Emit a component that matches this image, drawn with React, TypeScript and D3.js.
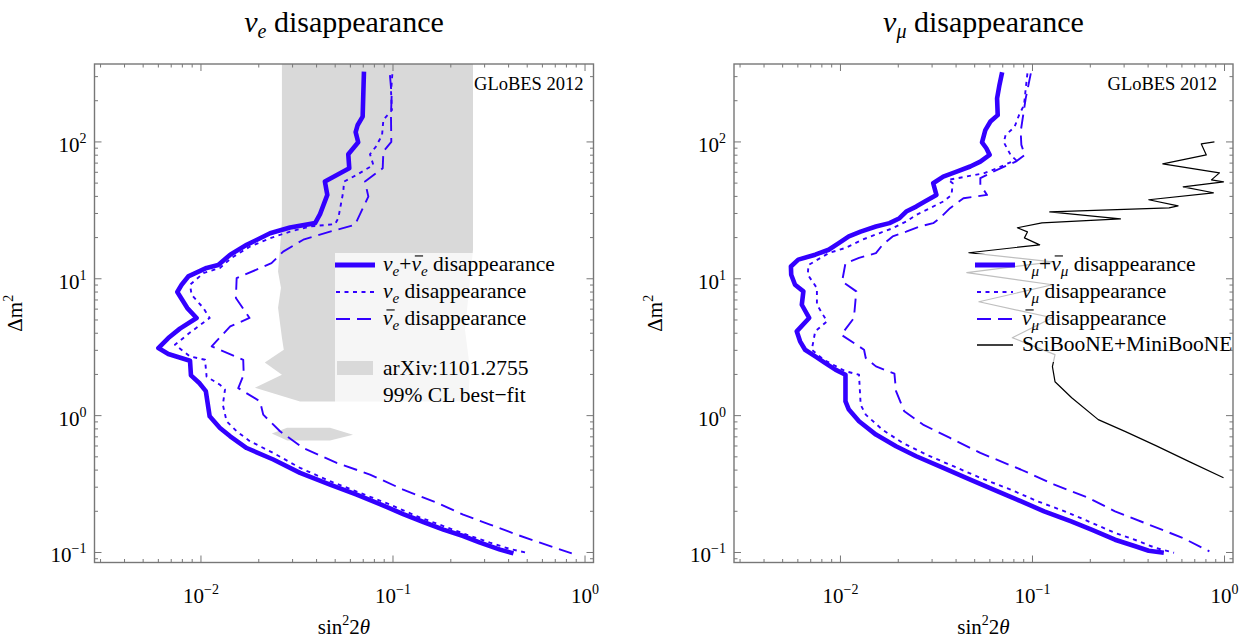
import React from 'react';
import * as d3 from 'd3';

type P = [number, number];

const W = 1245;
const H = 640;

// ---------- axis data ----------
const xDomain: [number, number] = [0.00279, 1.107];
const yDomain: [number, number] = [0.0845, 371];
const xTicks = [0.01, 0.1, 1];
const xTickExp = ['\u22122', '\u22121', '0'];
const yTicks = [0.1, 1, 10, 100];
const yTickExp = ['\u22121', '0', '1', '2'];

// ---------- left panel: nu_e disappearance ----------
const leftCombined: P[] = [
  [0.0706, 326], [0.0695, 153], [0.0655, 133], [0.0639, 118], [0.0659, 99.4], [0.0585, 81.3],
  [0.0592, 64.2], [0.0442, 51.3], [0.0455, 41.0], [0.0417, 29.7], [0.0393, 25.5], [0.0291, 23.7],
  [0.0229, 21.5], [0.0173, 17.7], [0.0142, 15.0], [0.0123, 12.6], [0.0107, 12.0], [0.00859, 10.4],
  [0.00793, 9.04], [0.00753, 8.0], [0.00849, 6.11], [0.00949, 5.17], [0.00777, 4.32], [0.00676, 3.69],
  [0.0060, 3.12], [0.00676, 2.82], [0.00877, 2.52], [0.00887, 1.97], [0.0098, 1.73], [0.0106, 1.51],
  [0.0111, 0.989], [0.01256, 0.813], [0.0142, 0.706], [0.0173, 0.58], [0.0238, 0.478], [0.0328, 0.382],
  [0.047, 0.313], [0.0647, 0.265], [0.0855, 0.226], [0.113, 0.191], [0.144, 0.167], [0.183, 0.147],
  [0.232, 0.132], [0.284, 0.118], [0.361, 0.105], [0.424, 0.0985],
];
const leftNu: P[] = [
  [0.0992, 312], [0.0977, 233], [0.0987, 171], [0.0891, 145], [0.0877, 112], [0.0815, 92.5],
  [0.0759, 81.3], [0.079, 67.9], [0.0647, 57.4], [0.0556, 51.3], [0.0551, 43.4], [0.0519, 27.7],
  [0.0499, 25.1], [0.037, 24.1], [0.0291, 22.1], [0.0229, 19.8], [0.018, 17.2], [0.0144, 14.2],
  [0.01256, 12.0], [0.0103, 11.0], [0.00877, 9.04], [0.00894, 7.64], [0.0103, 6.11], [0.0111, 5.17],
  [0.00894, 4.13], [0.00732, 3.3], [0.00877, 2.71], [0.0105, 2.56], [0.0107, 1.93], [0.01256, 1.68],
  [0.01334, 1.55], [0.013, 1.2], [0.0136, 0.91], [0.01534, 0.769], [0.018, 0.65], [0.0238, 0.534],
  [0.0328, 0.415], [0.047, 0.332], [0.0673, 0.273], [0.0964, 0.224], [0.133, 0.184], [0.183, 0.156],
  [0.242, 0.135], [0.32, 0.118], [0.407, 0.106], [0.497, 0.0995],
];
const leftNubar: P[] = [
  [0.0964, 308], [0.0984, 220], [0.0976, 157], [0.098, 100], [0.0891, 85.0], [0.0884, 64.2],
  [0.0715, 51.3], [0.0744, 39.9], [0.0634, 24.8], [0.047, 22.1], [0.0341, 19.3], [0.0268, 15.8],
  [0.0233, 13.0], [0.01534, 10.1], [0.0152, 7.23], [0.0165, 6.11], [0.0179, 5.17], [0.0142, 4.49],
  [0.01137, 3.21], [0.0166, 2.56], [0.0167, 1.99], [0.01564, 1.59], [0.0203, 1.27], [0.0211, 1.017],
  [0.0258, 0.769], [0.0341, 0.58], [0.0509, 0.452], [0.0759, 0.371], [0.113, 0.288], [0.169, 0.231],
  [0.232, 0.189], [0.32, 0.16], [0.441, 0.135], [0.583, 0.118], [0.853, 0.0985],
];
// arXiv:1101.2755 99% CL best-fit region
const bestFitMain: P[] = [
  [0.0264, 500], [0.261, 500], [0.261, 16.3], [0.249, 8.32], [0.237, 4.25], [0.252, 2.17],
  [0.246, 1.27], [0.0328, 1.27], [0.0191, 1.6], [0.0264, 1.99], [0.0215, 2.44], [0.027, 3.03],
  [0.0264, 3.71], [0.0252, 6.14], [0.0261, 8.59], [0.0252, 11.3], [0.0258, 16.8], [0.0264, 26.1],
];
const bestFitIsland: P[] = [
  [0.0234, 0.74], [0.0281, 0.817], [0.047, 0.817], [0.0619, 0.726], [0.047, 0.658], [0.0281, 0.658],
];

// ---------- right panel: nu_mu disappearance ----------
const rightCombined: P[] = [
  [0.0695, 323], [0.0673, 261], [0.0654, 208], [0.0659, 157], [0.0604, 141], [0.0568, 122],
  [0.0546, 99.4], [0.0575, 89.9], [0.0598, 80.4], [0.0535, 71.8], [0.0474, 66.1], [0.0403, 60.7],
  [0.0343, 55.8], [0.0304, 49.9], [0.0316, 41.0], [0.0275, 36.7], [0.0248, 33.7], [0.022, 31.0],
  [0.0203, 27.7], [0.018, 25.5], [0.0153, 24.1], [0.01274, 22.1], [0.01106, 20.4], [0.0098, 18.2],
  [0.00868, 16.3], [0.00739, 15.0], [0.00603, 13.8], [0.00552, 12.3], [0.00554, 10.7], [0.0058, 9.04],
  [0.00641, 8.09], [0.00629, 6.46], [0.00687, 5.17], [0.00592, 4.13], [0.00616, 3.49], [0.00654, 3.03],
  [0.00739, 2.71], [0.00834, 2.42], [0.00941, 2.17], [0.01062, 1.99], [0.01062, 1.27], [0.01106, 1.107],
  [0.01249, 0.91], [0.0153, 0.727], [0.01947, 0.597], [0.0248, 0.505], [0.0343, 0.415], [0.0474, 0.341],
  [0.0654, 0.281], [0.0868, 0.237], [0.115, 0.2], [0.159, 0.169], [0.203, 0.147], [0.269, 0.124],
  [0.343, 0.111], [0.403, 0.103], [0.483, 0.0995],
];
const rightNu: P[] = [
  [0.0941, 317], [0.0922, 246], [0.0904, 186], [0.0851, 157], [0.0807, 129], [0.0724, 112],
  [0.0709, 99.4], [0.0769, 80.4], [0.0818, 73.9], [0.0654, 64.2], [0.0557, 59.0], [0.0364, 52.8],
  [0.0384, 49.9], [0.0379, 41.0], [0.0343, 36.7], [0.0292, 32.8], [0.0248, 29.3], [0.022, 26.2],
  [0.0187, 23.4], [0.0159, 21.5], [0.013, 19.3], [0.01062, 16.8], [0.00868, 15.4], [0.00681, 12.6],
  [0.00676, 10.7], [0.00754, 8.55], [0.00754, 6.46], [0.00851, 4.89], [0.00739, 4.13], [0.00709, 3.03],
  [0.00817, 2.56], [0.01062, 2.11], [0.01249, 1.99], [0.01274, 1.2], [0.01354, 1.017], [0.01656, 0.788],
  [0.0211, 0.632], [0.028, 0.519], [0.0387, 0.427], [0.0535, 0.351], [0.0769, 0.288], [0.106, 0.237],
  [0.147, 0.2], [0.203, 0.165], [0.269, 0.139], [0.357, 0.121], [0.437, 0.108], [0.546, 0.0995],
];
const rightNubar: P[] = [
  [0.098, 317], [0.0922, 208], [0.0868, 119], [0.0875, 95.1], [0.0912, 80.4], [0.0818, 71.8],
  [0.0654, 62.5], [0.0535, 54.3], [0.0535, 48.6], [0.058, 41.0], [0.0437, 38.8], [0.0372, 32.8],
  [0.0329, 27.7], [0.0304, 25.5], [0.0258, 24.1], [0.022, 22.1], [0.0187, 20.4], [0.01656, 17.7],
  [0.0153, 15.4], [0.01249, 14.2], [0.01062, 13.0], [0.0102, 9.57], [0.01209, 8.09], [0.01175, 5.17],
  [0.0101, 3.9], [0.01209, 3.3], [0.01327, 3.03], [0.01354, 2.64], [0.0153, 2.29], [0.0191, 2.03],
  [0.01947, 1.51], [0.0215, 1.076], [0.0269, 0.86], [0.0372, 0.687], [0.0535, 0.534], [0.0868, 0.404],
  [0.13, 0.313], [0.195, 0.251], [0.269, 0.2], [0.403, 0.16], [0.604, 0.128], [0.834, 0.102],
];
// SciBooNE+MiniBooNE
const sciMiniBooNE: P[] = [
  [0.886, 100], [0.757, 96.7], [0.804, 80.4], [0.477, 69.1], [0.941, 59.4], [0.855, 52.8],
  [0.988, 51.1], [0.609, 47.0], [0.875, 42.5], [0.403, 37.8], [0.573, 34.1], [0.514, 33.0],
  [0.123, 30.8], [0.287, 27.4], [0.112, 25.6], [0.0834, 23.6], [0.0941, 22.0], [0.0908, 19.9],
  [0.109, 17.7], [0.0466, 15.5], [0.127, 13.3], [0.0455, 11.1], [0.127, 9.04], [0.0526, 6.79],
  [0.127, 5.19], [0.0785, 3.71], [0.131, 2.79], [0.127, 2.28], [0.131, 1.77], [0.16, 1.35],
  [0.22, 0.935], [0.305, 0.764], [0.439, 0.604], [0.655, 0.461], [0.988, 0.352],
];

// ---------- layout ----------
const PW = 499;
const Y0 = 64;
const Y1 = 562.5;
const BLUE = '#3300ff';
const FRAME = '#777777';
const SERIF = "'Liberation Serif', 'Times New Roman', serif";
const FS_LEG = 21.5;

const minorVals: { v: number; major: boolean }[] = [];
for (let e = -3; e <= 2; e++) {
  for (let m = 1; m <= 9; m++) minorVals.push({ v: m * Math.pow(10, e), major: m === 1 });
}

type Curve = { data: P[]; kind: 'thick' | 'dot' | 'dash' | 'black' };

const styleFor = (kind: Curve['kind']) => {
  if (kind === 'thick') return { stroke: BLUE, strokeWidth: 4.6 };
  if (kind === 'dot') return { stroke: BLUE, strokeWidth: 1.9, strokeDasharray: '4,4.5' };
  if (kind === 'dash') return { stroke: BLUE, strokeWidth: 1.9, strokeDasharray: '14,7' };
  return { stroke: '#000', strokeWidth: 1.2 };
};

// text with overbars drawn above selected characters (char indices)
const BarText: React.FC<{ x: number; y: number; bars: number[]; fs: number; children: React.ReactNode }> = ({ x, y, bars, fs, children }) => {
  const ref = React.useRef<SVGTextElement>(null);
  const [segs, setSegs] = React.useState<{ x1: number; x2: number; y: number }[]>([]);
  React.useLayoutEffect(() => {
    const measure = () => {
      const el = ref.current;
      if (!el) return;
      try {
        const out = bars.map((i) => {
          const r = el.getExtentOfChar(i);
          const s = el.getStartPositionOfChar(i);
          return { x1: r.x + 0.16 * fs, x2: r.x + r.width + 0.1 * fs, y: s.y - 0.7 * fs };
        });
        setSegs(out);
      } catch (e) {
        /* ignore */
      }
    };
    measure();
    if ((document as any).fonts && (document as any).fonts.ready) (document as any).fonts.ready.then(measure);
  }, []);
  return (
    <g>
      <text ref={ref} x={x} y={y} fontSize={fs} fontFamily={SERIF}>{children}</text>
      {segs.map((s, i) => (
        <line key={i} x1={s.x1} x2={s.x2} y1={s.y} y2={s.y} stroke="#000" strokeWidth={1.1} />
      ))}
    </g>
  );
};

const Nu: React.FC<{ sub: string; after?: string; fs: number }> = ({ sub, after, fs }) => {
  const d = Math.round(fs * 0.22);
  return (
    <>
      <tspan fontStyle="italic">{'\u03bd'}</tspan>
      <tspan fontStyle="italic" fontSize={fs * 0.7} dy={d}>{sub}</tspan>
      <tspan dy={-d}>{after}</tspan>
    </>
  );
};

type PanelProps = {
  id: string;
  x0: number;
  flavor: string;
  curves: Curve[];
  regions?: P[][];
  legend: 'e' | 'mu';
  globesInset: number;
};

const Panel: React.FC<PanelProps> = ({ id, x0, flavor, curves, regions, legend, globesInset }) => {
  const x1 = x0 + PW;
  const xs = d3.scaleLog().domain(xDomain).range([x0, x1]);
  const ys = d3.scaleLog().domain(yDomain).range([Y1, Y0]);
  const line = d3.line<P>().x((d) => xs(d[0])).y((d) => ys(d[1]));
  const xMin = xs.domain()[0], xMax = xs.domain()[1];
  const yMin = ys.domain()[0], yMax = ys.domain()[1];
  const xMinor = minorVals.filter((t) => t.v >= xMin && t.v <= xMax);
  const yMinor = minorVals.filter((t) => t.v >= yMin && t.v <= yMax);
  const cx = (x0 + x1) / 2;
  const fsL = FS_LEG;

  return (
    <g fontFamily={SERIF}>
      <defs>
        <clipPath id={`clip-${id}`}>
          <rect x={x0} y={Y0} width={PW} height={Y1 - Y0} />
        </clipPath>
      </defs>
      <g clipPath={`url(#clip-${id})`}>
        {(regions || []).map((r, i) => (
          <path key={i} d={line(r) + 'Z'} fill="#d9d9d9" stroke="none" />
        ))}
        {curves.map((c, i) => (
          <path key={i} d={line(c.data) || ''} fill="none" strokeLinejoin="round" {...styleFor(c.kind)} />
        ))}
      </g>

      {/* legend */}
      {legend === 'e' ? (
        <g fill="#000">
          <rect x={335} y={253} width={232} height={157} fill="#fff" opacity={0.75} />
          <line x1={335} x2={375} y1={265} y2={265} {...styleFor('thick')} strokeWidth={5} />
          <line x1={336} x2={375} y1={292} y2={292} {...styleFor('dot')} />
          <line x1={336} x2={375} y1={319} y2={319} {...styleFor('dash')} />
          <rect x={337} y={361} width={36} height={14} fill="#d9d9d9" />
          <BarText x={383} y={271} fs={fsL} bars={[3]}>
            <Nu sub="e" fs={fsL} after="+" />
            <Nu sub="e" fs={fsL} after=" disappearance" />
          </BarText>
          <BarText x={383} y={298} fs={fsL} bars={[]}><Nu sub="e" fs={fsL} after=" disappearance" /></BarText>
          <BarText x={383} y={325} fs={fsL} bars={[0]}><Nu sub="e" fs={fsL} after=" disappearance" /></BarText>
          <text x={383} y={375} fontSize={fsL}>arXiv:1101.2755</text>
          <text x={383} y={402} fontSize={fsL}>99% CL best{'\u2212'}fit</text>
        </g>
      ) : (
        <g fill="#000">
          <rect x={965} y={254} width={264} height={108} fill="#fff" opacity={0.75} />
          <line x1={975} x2={1015} y1={265} y2={265} {...styleFor('thick')} strokeWidth={5} />
          <line x1={977} x2={1013} y1={292} y2={292} {...styleFor('dot')} />
          <line x1={977} x2={1013} y1={319} y2={319} {...styleFor('dash')} />
          <line x1={977} x2={1013} y1={345} y2={345} {...styleFor('black')} strokeWidth={1.5} />
          <BarText x={1022} y={271} fs={fsL} bars={[3]}>
            <Nu sub={'\u03bc'} fs={fsL} after="+" />
            <Nu sub={'\u03bc'} fs={fsL} after=" disappearance" />
          </BarText>
          <BarText x={1022} y={298} fs={fsL} bars={[]}><Nu sub={'\u03bc'} fs={fsL} after=" disappearance" /></BarText>
          <BarText x={1022} y={325} fs={fsL} bars={[0]}><Nu sub={'\u03bc'} fs={fsL} after=" disappearance" /></BarText>
          <text x={1022} y={351} fontSize={fsL}>SciBooNE+MiniBooNE</text>
        </g>
      )}

      {/* frame and ticks */}
      <rect x={x0} y={Y0} width={PW} height={Y1 - Y0} fill="none" stroke={FRAME} strokeWidth={1.4} />
      <g stroke={FRAME} strokeWidth={1}>
        {xMinor.map((t, i) => {
          const x = xs(t.v);
          const L = t.major ? 7 : 3.5;
          return (
            <g key={i}>
              <line x1={x} x2={x} y1={Y1} y2={Y1 - L} />
              <line x1={x} x2={x} y1={Y0} y2={Y0 + L} />
            </g>
          );
        })}
        {yMinor.map((t, i) => {
          const y = ys(t.v);
          const L = t.major ? 7 : 3.5;
          return (
            <g key={i}>
              <line x1={x0} x2={x0 + L} y1={y} y2={y} />
              <line x1={x1} x2={x1 - L} y1={y} y2={y} />
            </g>
          );
        })}
      </g>

      {/* tick labels */}
      <g fontSize={21} fill="#000">
        {xTicks.map((v, i) => (
          <text key={i} x={xs(v)} y={603} textAnchor="middle">
            10<tspan fontSize={14} dy={-9}>{xTickExp[i]}</tspan>
          </text>
        ))}
        {yTicks.map((v, i) => (
          <text key={i} x={x0 - 8} y={ys(v) + 10} textAnchor="end">
            10<tspan fontSize={14} dy={-9}>{yTickExp[i]}</tspan>
          </text>
        ))}
      </g>

      <text x={x1 - globesInset} y={90} textAnchor="end" fontSize={18.5}>GLoBES 2012</text>

      {/* axis titles */}
      <text x={cx} y={634} textAnchor="middle" fontSize={21}>
        sin<tspan fontSize={14} dy={-9}>2</tspan><tspan dy={9}>2</tspan><tspan fontStyle="italic">{'\u03b8'}</tspan>
      </text>
      <text transform={`translate(${x0 - 72.5},${(Y0 + Y1) / 2}) rotate(-90)`} textAnchor="middle" fontSize={21}>
        {'\u0394'}m<tspan fontSize={14} dy={-9}>2</tspan>
      </text>

      {/* panel title */}
      <text x={cx} y={32} textAnchor="middle" fontSize={30}>
        <tspan fontStyle="italic">{'\u03bd'}</tspan>
        <tspan fontStyle="italic" fontSize={20} dy={6}>{flavor}</tspan>
        <tspan dy={-6}> disappearance</tspan>
      </text>
    </g>
  );
};

export default function App() {
  return (
    <svg width={W} height={H} viewBox={`0 0 ${W} ${H}`} style={{ position: 'absolute', left: 0, top: 0, background: '#fff', fontFamily: SERIF }}>
      <rect x={0} y={0} width={W} height={H} fill="#fff" />
      <Panel
        id="left"
        x0={94.5}
        flavor="e"
        legend="e"
        globesInset={10}
        regions={[bestFitMain, bestFitIsland]}
        curves={[
          { data: leftNubar, kind: 'dash' },
          { data: leftNu, kind: 'dot' },
          { data: leftCombined, kind: 'thick' },
        ]}
      />
      <Panel
        id="right"
        x0={734}
        flavor={'\u03bc'}
        legend="mu"
        globesInset={16}
        curves={[
          { data: sciMiniBooNE, kind: 'black' },
          { data: rightNubar, kind: 'dash' },
          { data: rightNu, kind: 'dot' },
          { data: rightCombined, kind: 'thick' },
        ]}
      />
    </svg>
  );
}
